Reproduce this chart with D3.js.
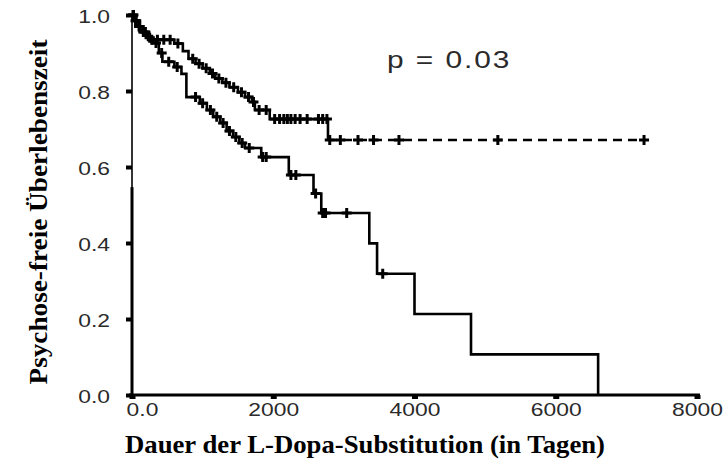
<!DOCTYPE html>
<html>
<head>
<meta charset="utf-8">
<script src="https://cdn.jsdelivr.net/npm/d3@7"></script>
<style>
  body { margin: 0; background: #fff; }
  svg { display: block; }
</style>
</head>
<body>
<svg id="chart" width="728" height="465"></svg>
<script>
// Axis ticks
const xTicks = [0, 2000, 4000, 6000, 8000];
const xTickLabels = ["0.0", "2000", "4000", "6000", "8000"];
const yTicks = [0, 0.2, 0.4, 0.6, 0.8, 1.0];
const yTickLabels = ["0.0", "0.2", "0.4", "0.6", "0.8", "1.0"];

// Group with the better course: event times (days) and survival after each event
const upperTimes = [0, 40, 90, 150, 230, 600, 720, 800, 900, 1000, 1100, 1180, 1280, 1380, 1500, 1600, 1700, 1740, 1950, 2775];
const upperSurv  = [1.0, 0.985, 0.97, 0.955, 0.935, 0.925, 0.905, 0.885, 0.872, 0.86, 0.846, 0.833, 0.822, 0.81, 0.797, 0.784, 0.771, 0.75, 0.726, 0.671];
const upperCensored = [20, 60, 110, 190, 280, 360, 450, 540, 650, 860, 950, 1050, 1140, 1230, 1330, 1440, 1550, 1650, 1720, 1800, 1900,
                       2020, 2090, 2150, 2200, 2250, 2310, 2380, 2480, 2640, 2700, 2760,
                       2800, 2950, 3200, 3420, 3780, 5180, 7250];
const upperEnd = 7250;
const upperDashFrom = 2775;

// Group with the worse course
const lowerTimes = [0, 30, 70, 120, 200, 300, 380, 430, 600, 700, 770, 960, 1060, 1150, 1250, 1340, 1430, 1520, 1600, 1830, 2220, 2570, 2680, 3360, 3470, 4000, 4800, 6600];
const lowerSurv  = [1.0, 0.985, 0.97, 0.955, 0.94, 0.926, 0.90, 0.877, 0.863, 0.845, 0.784, 0.768, 0.75, 0.732, 0.716, 0.695, 0.679, 0.663, 0.65, 0.626, 0.579, 0.53, 0.479, 0.399, 0.319, 0.213, 0.107, 0];
const lowerCensored = [15, 50, 100, 160, 250, 340, 420, 520, 640, 900, 1000, 1110, 1200, 1290, 1380, 1470, 1560, 1660, 1850, 1900,
                       2250, 2320, 2600, 2700, 2740, 3040, 3550];

const pLabel = "p = 0.03";
const xTitle = "Dauer der L-Dopa-Substitution (in Tagen)";
const yTitle = "Psychose-freie Überlebenszeit";

const svg = d3.select("#chart");
svg.append("rect").attr("width", 728).attr("height", 465).attr("fill", "#fff");

const x = d3.scaleLinear().domain([0, 8000]).range([132, 697]);
const y = d3.scaleLinear().domain([0, 1]).range([395, 15]);

const labelFont = "'Liberation Sans', Arial, sans-serif";
const titleFont = "'Liberation Serif', 'Times New Roman', serif";
const stretch = 1.27; // wide lettering of the tick labels

// ---- axes ----
const xAxis = d3.axisBottom(x).tickValues(xTicks).tickSize(0).tickPadding(0)
  .tickFormat((d, i) => xTickLabels[i]);
const gx = svg.append("g").attr("transform", `translate(0,${y(0)})`).call(xAxis);
gx.select(".domain").attr("stroke", "#000").attr("stroke-width", 3)
  .attr("d", `M${x(0) - 3},0H${x(8000) + 3}`);
gx.selectAll(".tick text")
  .attr("font-family", labelFont).attr("font-size", 18).attr("fill", "#2a2a2a")
  .attr("dy", null).attr("y", 0)
  .attr("transform", (d, i) => `translate(${i === 0 ? 10 : 0},21) scale(${stretch},1)`);
gx.selectAll(".tick").append("rect")
  .attr("x", -3).attr("y", 0).attr("width", 6).attr("height", 4).attr("fill", "#000");

const yAxis = d3.axisLeft(y).tickValues(yTicks).tickSize(0).tickPadding(0)
  .tickFormat((d, i) => yTickLabels[i]);
const gy = svg.append("g").attr("transform", `translate(${x(0)},0)`).call(yAxis);
gy.select(".domain").attr("stroke", "#000").attr("stroke-width", 1.6)
  .attr("d", `M0,${y(1)}V${y(0)}`);
gy.selectAll(".tick text")
  .attr("font-family", labelFont).attr("font-size", 18).attr("fill", "#2a2a2a")
  .attr("x", 0).attr("dy", "0.35em")
  .attr("transform", `translate(-22,1) scale(${stretch},1)`);
gy.selectAll(".tick").append("rect")
  .attr("x", -6).attr("y", -2).attr("width", 6).attr("height", 4).attr("fill", "#000");
// heavier lower part of the vertical axis
gy.append("line").attr("x1", 0).attr("x2", 0).attr("y1", y(0.547)).attr("y2", y(0))
  .attr("stroke", "#000").attr("stroke-width", 3);

// ---- survival curves ----
function stepPoints(times, surv, end) {
  const pts = times.map((t, i) => [t, surv[i]]);
  pts.push([end, surv[surv.length - 1]]);
  return pts;
}
function survAt(times, surv, t) {
  let s = 1;
  for (let i = 0; i < times.length; i++) if (times[i] <= t) s = surv[i];
  return s;
}
const stepLine = d3.line().x(d => x(d[0])).y(d => y(d[1])).curve(d3.curveStepAfter);

const plot = svg.append("g");
const lineW = 2.6;
const upperPts = stepPoints(upperTimes, upperSurv, upperEnd);
const splitIdx = upperTimes.indexOf(upperDashFrom);
plot.append("path").attr("d", stepLine(upperPts.slice(0, splitIdx + 1)))
  .attr("fill", "none").attr("stroke", "#000").attr("stroke-width", lineW);
plot.append("path").attr("d", stepLine(upperPts.slice(splitIdx)))
  .attr("fill", "none").attr("stroke", "#000").attr("stroke-width", lineW)
  .attr("stroke-dasharray", "9,6");

const lowerPts = stepPoints(lowerTimes, lowerSurv, lowerTimes[lowerTimes.length - 1]);
plot.append("path").attr("d", stepLine(lowerPts))
  .attr("fill", "none").attr("stroke", "#000").attr("stroke-width", lineW);

const cross = "M-5,0H5M0,-5V5";
function drawCensors(list, times, surv) {
  plot.append("g").selectAll("path").data(list).join("path")
    .attr("transform", t => `translate(${x(t)},${y(survAt(times, surv, t))})`)
    .attr("d", cross).attr("stroke", "#000").attr("stroke-width", 3).attr("fill", "none");
}
drawCensors(upperCensored, upperTimes, upperSurv);
drawCensors(lowerCensored, lowerTimes, lowerSurv);

// ---- annotation and titles ----
svg.append("text").attr("transform", "translate(387,68) scale(1.3,1)")
  .attr("font-family", labelFont).attr("font-size", 23).attr("fill", "#2a2a2a")
  .attr("letter-spacing", 1.5)
  .text(pLabel);

svg.append("text").attr("x", 365).attr("y", 453).attr("text-anchor", "middle")
  .attr("font-family", titleFont).attr("font-weight", "bold").attr("font-size", 26)
  .attr("textLength", 480).attr("lengthAdjust", "spacingAndGlyphs")
  .text(xTitle);

svg.append("text").attr("transform", "translate(47,212) rotate(-90)")
  .attr("text-anchor", "middle")
  .attr("font-family", titleFont).attr("font-weight", "bold").attr("font-size", 26)
  .attr("textLength", 345).attr("lengthAdjust", "spacingAndGlyphs")
  .text(yTitle);
</script>
</body>
</html>
